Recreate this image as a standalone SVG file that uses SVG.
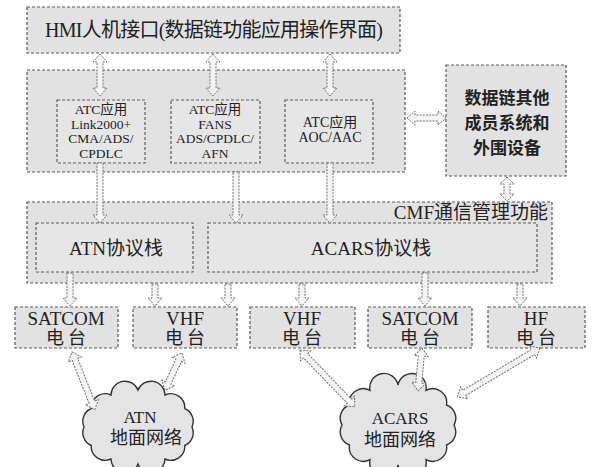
<svg xmlns="http://www.w3.org/2000/svg" width="593" height="467" viewBox="0 0 593 467">
<style>
.box{fill:#e2e2e2;stroke:#5a5a5a;stroke-width:1.2;stroke-dasharray:3 2}
.in{fill:#e6e6e6;stroke:#5a5a5a;stroke-width:1.2;stroke-dasharray:3 2}
.cloud{fill:#e4e4e4;stroke:#333;stroke-width:1.4}
.arr{fill:#f4f4f4;stroke:#707070;stroke-width:1;stroke-dasharray:2 1.2}
text{font-family:"Liberation Serif","Noto Sans CJK SC",serif;fill:#222;text-anchor:middle}
.cj{font-family:"Noto Sans CJK SC",sans-serif}
</style>
<rect width="593" height="467" fill="#fff"/>
<g id="hmi">
<rect class="box" x="27" y="7" width="373" height="46"/>
<text x="214" y="37" font-size="20" textLength="338">HMI人机接口(数据链功能应用操作界面)</text>
</g>
<g id="apps">
<rect class="box" x="27" y="70" width="378" height="102"/>
</g>
<g id="atc1">
<rect class="in" x="57" y="100" width="88" height="63"/>
<text x="101" font-size="13.5"><tspan x="101" y="114">ATC应用</tspan><tspan x="101" y="128.5">Link2000+</tspan><tspan x="101" y="143">CMA/ADS/</tspan><tspan x="101" y="157.5">CPDLC</tspan></text>
</g>
<g id="atc2">
<rect class="in" x="171" y="100" width="89" height="63"/>
<text x="215" font-size="13.5"><tspan x="215" y="114">ATC应用</tspan><tspan x="215" y="128.5">FANS</tspan><tspan x="215" y="143">ADS/CPDLC/</tspan><tspan x="215" y="157.5">AFN</tspan></text>
</g>
<g id="atc3">
<rect class="in" x="285" y="100" width="88" height="63"/>
<text x="330" font-size="14"><tspan x="330" y="127">ATC应用</tspan><tspan x="330" y="142">AOC/AAC</tspan></text>
</g>
<g id="other">
<rect class="box" x="446" y="65" width="120" height="111"/>
<text class="cj" x="507" font-size="17" font-weight="bold"><tspan x="507" y="104">数据链其他</tspan><tspan x="507" y="129">成员系统和</tspan><tspan x="507" y="154">外围设备</tspan></text>
</g>
<g id="cmf">
<rect class="box" x="27" y="202" width="525" height="81"/>
<text x="548" y="219" font-size="19" style="text-anchor:end">CMF通信管理功能</text>
</g>
<g id="atn-stack">
<rect class="in" x="36" y="223" width="157" height="49"/>
<text x="116" y="255" font-size="19">ATN协议栈</text>
</g>
<g id="acars-stack">
<rect class="in" x="208" y="223" width="329" height="49"/>
<text x="371" y="255" font-size="19">ACARS协议栈</text>
</g>
<g id="satcom1">
<rect class="box" x="15" y="307" width="103" height="41"/>
<text x="66" y="325" font-size="19">SATCOM</text>
<text x="68" y="344" font-size="18" letter-spacing="4">电台</text>
</g>
<g id="vhf1">
<rect class="box" x="133" y="307" width="104" height="41"/>
<text x="185" y="325" font-size="19">VHF</text>
<text x="187" y="344" font-size="18" letter-spacing="4">电台</text>
</g>
<g id="vhf2">
<rect class="box" x="250" y="307" width="105" height="41"/>
<text x="302" y="325" font-size="19">VHF</text>
<text x="304" y="344" font-size="18" letter-spacing="4">电台</text>
</g>
<g id="satcom2">
<rect class="box" x="368" y="307" width="104" height="41"/>
<text x="420" y="325" font-size="19">SATCOM</text>
<text x="422" y="344" font-size="18" letter-spacing="4">电台</text>
</g>
<g id="hf">
<rect class="box" x="488" y="307" width="97" height="41"/>
<text x="536" y="325" font-size="19">HF</text>
<text x="538" y="344" font-size="18" letter-spacing="4">电台</text>
</g>
<g id="atn-cloud">
<path class="cloud" d="M192,427 A14,14 0 0 1 184.8,445.5 A14,14 0 0 1 165,459 A14,14 0 0 1 138,464 A14,14 0 0 1 111,459 A14,14 0 0 1 91.2,445.5 A14,14 0 0 1 84,427 A14,14 0 0 1 91.2,408.5 A14,14 0 0 1 111,395 A14,14 0 0 1 138,390 A14,14 0 0 1 165,395 A14,14 0 0 1 184.8,408.5 A14,14 0 0 1 192,427 Z"/>
<text x="140" y="423" font-size="17">ATN</text>
<text x="146" y="444" font-size="18">地面网络</text>
</g>
<g id="acars-cloud">
<path class="cloud" d="M454,425 A14,14 0 0 1 446.5,445 A14,14 0 0 1 426,459.6 A14,14 0 0 1 398,465 A14,14 0 0 1 370,459.6 A14,14 0 0 1 349.5,445 A14,14 0 0 1 342,425 A14,14 0 0 1 349.5,405 A14,14 0 0 1 370,390.4 A14,14 0 0 1 398,385 A14,14 0 0 1 426,390.4 A14,14 0 0 1 446.5,405 A14,14 0 0 1 454,425 Z"/>
<text x="400" y="424" font-size="17">ACARS</text>
<text x="400" y="446" font-size="18">地面网络</text>
</g>
<g id="connectors">
<polygon class="arr" points="100,54 107,62 103,62 103,88 107,88 100,96 93,88 97,88 97,62 93,62"/>
<polygon class="arr" points="213,54 220,62 216,62 216,88 220,88 213,96 206,88 210,88 210,62 206,62"/>
<polygon class="arr" points="330,54 337,62 333,62 333,88 337,88 330,96 323,88 327,88 327,62 323,62"/>
<polygon class="arr" points="97,163 103,163 103,215 107,215 100,223 93,215 97,215"/>
<polygon class="arr" points="233,172 239,172 239,215 243,215 236,223 229,215 233,215"/>
<polygon class="arr" points="327,163 333,163 333,215 337,215 330,223 323,215 327,215"/>
<polygon class="arr" points="507,177 514,184 510,184 510,194 514,194 507,201 500,194 504,194 504,184 500,184"/>
<polygon class="arr" points="407,118 415,111 415,115 438,115 438,111 446,118 438,125 438,121 415,121 415,125"/>
<polygon class="arr" points="67,273 73,273 73,298 77,298 70,306 63,298 67,298"/>
<polygon class="arr" points="152,284 158,284 158,298 162,298 155,306 148,298 152,298"/>
<polygon class="arr" points="225,284 231,284 231,298 235,298 228,306 221,298 225,298"/>
<polygon class="arr" points="299,284 305,284 305,298 309,298 302,306 295,298 299,298"/>
<polygon class="arr" points="422,273 428,273 428,298 432,298 425,306 418,298 422,298"/>
<polygon class="arr" points="517,284 523,284 523,298 527,298 520,306 513,298 517,298"/>
<polygon class="arr" transform="translate(72,352) rotate(68.4)" points="0,0 8,-7 8,-3 54,-3 54,-7 62,0 54,7 54,3 8,3 8,7"/>
<polygon class="arr" transform="translate(182,353) rotate(114.7)" points="0,0 8,-7 8,-3 33,-3 33,-7 41,0 33,7 33,3 8,3 8,7"/>
<polygon class="arr" transform="translate(300,350) rotate(46)" points="0,0 8,-7 8,-3 71,-3 71,-7 79,0 71,7 71,3 8,3 8,7"/>
<polygon class="arr" transform="translate(422,348) rotate(95.3)" points="0,0 8,-7 8,-3 35,-3 35,-7 43,0 35,7 35,3 8,3 8,7"/>
<polygon class="arr" transform="translate(540,348) rotate(149.4)" points="0,0 8,-7 8,-3 88,-3 88,-7 96,0 88,7 88,3 8,3 8,7"/>
</g>
</svg>
